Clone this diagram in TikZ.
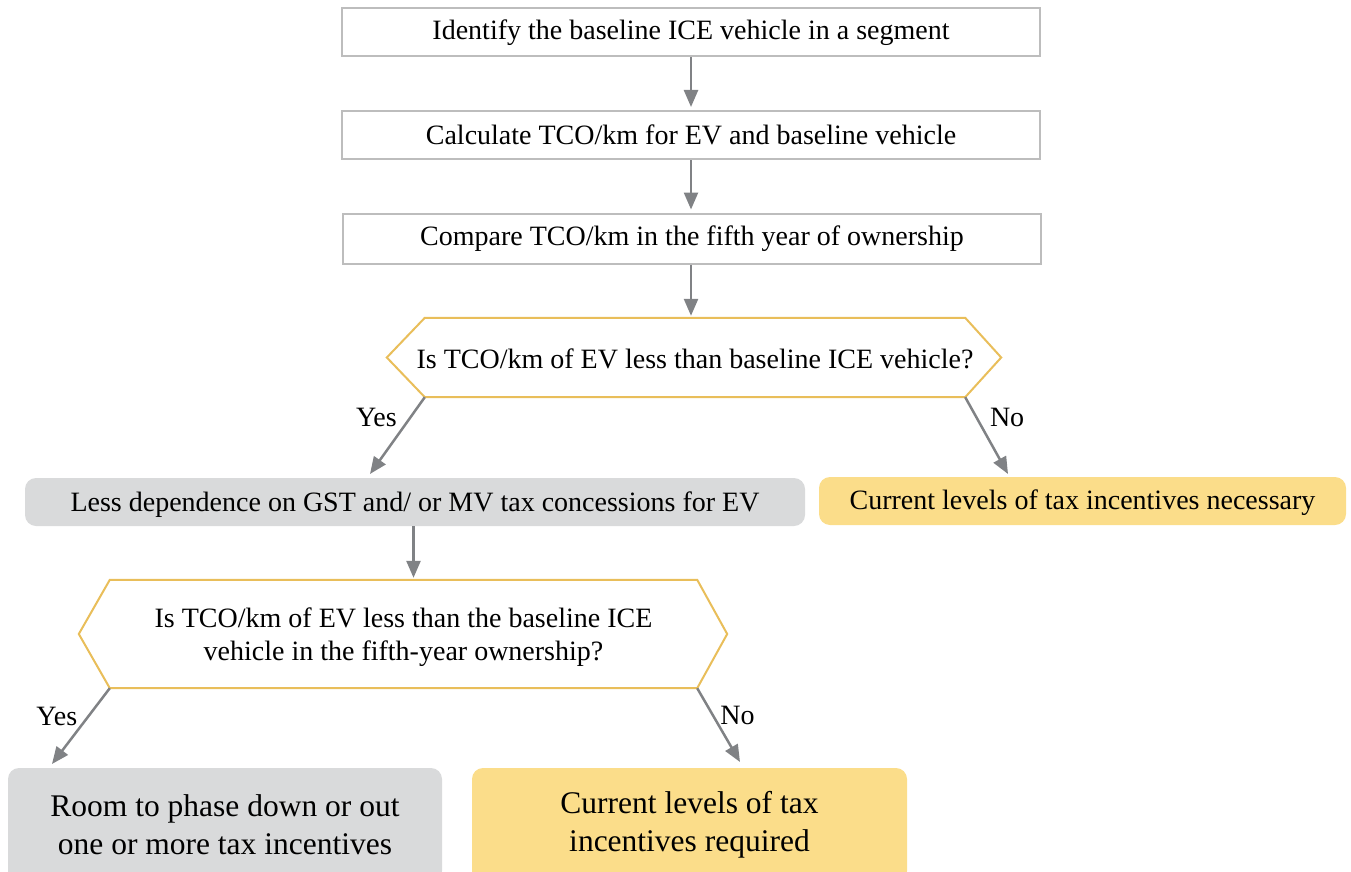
\documentclass[tikz,border=0pt]{standalone}
\usepackage{fontspec}
\setmainfont{Liberation Serif}
\usetikzlibrary{arrows.meta,calc}
\definecolor{boxline}{HTML}{BDBDBD}
\definecolor{gold}{HTML}{E9BE5A}
\definecolor{arrowgray}{HTML}{808285}
\definecolor{grayfill}{HTML}{D9DADB}
\definecolor{yellowfill}{HTML}{FBDD8A}
\begin{document}
\begin{tikzpicture}[x=1pt,y=-1pt,
  txt/.style={font=\fontsize{28}{33}\selectfont, align=center},
  bigtxt/.style={font=\fontsize{31.5}{38}\selectfont, align=center},
  stepbox/.style={txt, draw=boxline, line width=2pt, minimum width=698pt, minimum height=48pt, inner sep=0pt},
  hexin/.style={txt, inner sep=0pt},
  hexline/.style={draw=gold, line width=2pt, fill=white},
  graybox/.style={fill=grayfill, rounded corners=11pt, inner sep=0pt},
  yellowbox/.style={fill=yellowfill, rounded corners=11pt, inner sep=0pt},
  flow/.style={draw=arrowgray, line width=2.5pt, -{Triangle[length=17pt,width=14pt]}},
  lbl/.style={txt, inner sep=0pt}
]
\useasboundingbox (0,0) rectangle (1351,872);
\clip (0,0) rectangle (1351,872);

% top step boxes
\node[stepbox] (s1) at (691,32.5) {Identify the baseline ICE vehicle in a segment};
\node[stepbox] (s2) at (691,135) {Calculate TCO/km for EV and baseline vehicle};
\node[stepbox, minimum height=50pt] (s3) at (692,238.5) {Compare TCO/km in the fifth year of ownership};

% first decision
\node[hexin, minimum width=540pt, minimum height=79pt] (d1) at (695,357.5) {};
\path[hexline] (d1.north west) -- (d1.north east) -- ($(d1.east)+(36,0)$) -- (d1.south east)
  -- (d1.south west) -- ($(d1.west)+(-38,0)$) -- cycle;
\node[txt] (d1t) at ($(d1.center)+(0,1)$) {Is TCO/km of EV less than baseline ICE vehicle?};

% outcome row 1
\node[graybox, minimum width=780pt, minimum height=48pt] (less) at (415,502) {};
\node[txt] (lesst) at ($(less.center)+(0,3)$) {Less dependence on GST and/ or MV tax concessions for EV};
\node[yellowbox, minimum width=527pt, minimum height=48pt] (nec) at (1082.5,501) {};
\node[txt] (nect) at ($(nec.center)+(0,2)$) {Current levels of tax incentives necessary};

% second decision
\node[hexin, minimum width=587pt, minimum height=108pt] (d2) at (403.5,634) {};
\path[hexline] (d2.north west) -- (d2.north east) -- ($(d2.east)+(30,0)$) -- (d2.south east)
  -- (d2.south west) -- ($(d2.west)+(-31,0)$) -- cycle;
\node[txt] (d2t) at ($(d2.center)+(0,3)$) {Is TCO/km of EV less than the baseline ICE\\vehicle in the fifth-year ownership?};

% bottom outcomes
\node[graybox, bigtxt, minimum width=434pt, minimum height=114pt] (room) at (225,825) {Room to phase down or out\\one or more tax incentives};
\node[yellowbox, bigtxt, minimum width=435pt, minimum height=114pt] (req) at (689.5,825) {Current levels of tax\\incentives required};

% arrow end points
\coordinate (e1) at (370,474);
\coordinate (e2) at (1008,474);
\coordinate (e3) at (52,764);
\coordinate (e4) at (740,762);

% connectors
\draw[flow] (s1.south) -- ($(s2.north)+(0,-3)$);
\draw[flow] (s2.south) -- ($(s2.south|-s3.north)+(0,-3)$);
\draw[flow] (s2.south|-s3.south) -- ($(s2.south|-d1.north)+(0,-2)$);
\draw[flow] (d1.south west) -- node[lbl, pos=0.27, left=12pt] (yes1) {Yes} (e1);
\draw[flow] (d1.south east) -- node[lbl, pos=0.27, right=12pt] (no1) {No} (e2);
\draw[flow] (less.south -| d2.north) ++(10,0) coordinate (a4s) -- ($(d2.north)+(10,-2)$);
\draw[flow] (d2.south west) -- node[lbl, pos=0.37, left=10pt] (yes2) {Yes} (e3);
\draw[flow] (d2.south east) -- node[lbl, pos=0.37, right=6pt] (no2) {No} (e4);
\end{tikzpicture}
\end{document}
